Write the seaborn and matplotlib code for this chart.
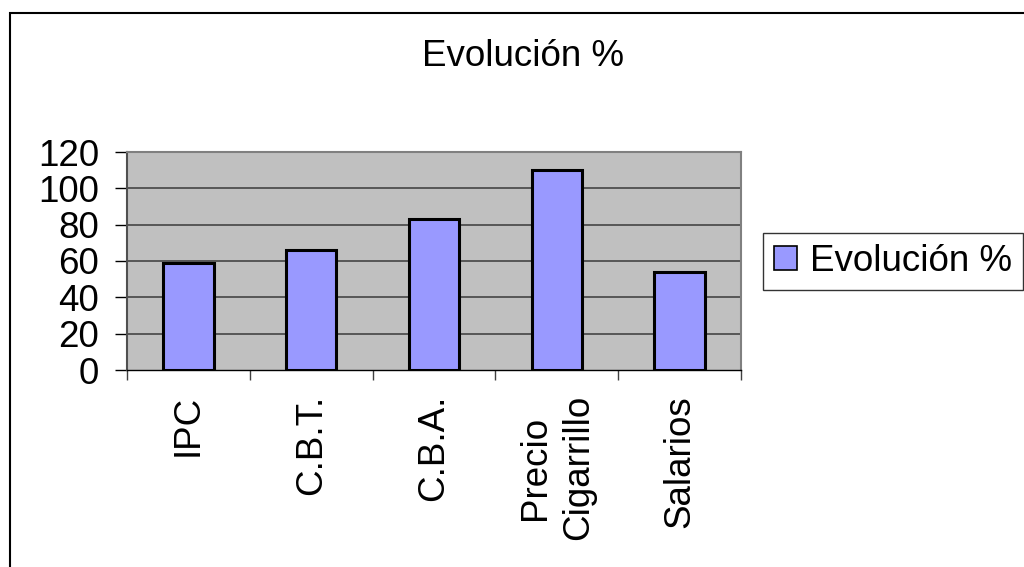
import matplotlib
matplotlib.use("Agg")
import matplotlib.pyplot as plt
import seaborn as sns
import pandas as pd
from matplotlib.patches import Rectangle, Patch

categories = ["IPC", "C.B.T.", "C.B.A.", "Precio\nCigarrillo", "Salarios"]
values = [59, 66, 83, 110, 54]
series_name = "Evolución %"
title = "Evolución %"
yticks = [0, 20, 40, 60, 80, 100, 120]

sns.set_theme(style="white")
plt.rcParams['font.family'] = ['Liberation Sans', 'DejaVu Sans']
plt.rcParams['text.color'] = 'black'
plt.rcParams['xtick.color'] = 'black'
plt.rcParams['ytick.color'] = 'black'

FS = 26.5

df = pd.DataFrame({"cat": categories, "val": values})

fig = plt.figure(figsize=(10.24, 5.67), dpi=100)
ax = fig.add_axes([127/1024, 1-370/567, (741-127)/1024, (370-152)/567])
ax.set_facecolor("#C0C0C0")

sns.barplot(data=df, x="cat", y="val", color="#9999FF", edgecolor="black",
            linewidth=2.2, width=0.41, saturation=1, ax=ax, zorder=3)

ax.set_ylim(0, 120)
ax.set_xlim(-0.5, len(categories) - 0.5)
ax.set_yticks(yticks)
ax.set_yticklabels([str(v) for v in yticks], fontsize=FS)
ax.grid(False)
for v in yticks[1:]:
    ax.axhline(v, color="#3a3a3a", lw=1.1, zorder=1)
ax.set_xlabel("")
ax.set_ylabel("")

ax.set_xticks(range(len(categories)))
ax.set_xticklabels(categories, rotation=90, fontsize=FS, va="top", ha="center", linespacing=1.3)
ax.tick_params(axis="x", which="major", length=0, pad=18, bottom=False)
ax.set_xticks([i - 0.5 for i in range(len(categories) + 1)], minor=True)
ax.tick_params(axis="x", which="minor", length=7.5, width=1, color="#404040",
               direction="out", bottom=True)
ax.tick_params(axis="y", length=9, width=1, color="black", direction="out", pad=11, left=True)

for side in ["left", "right", "top"]:
    ax.spines[side].set_color("#808080")
    ax.spines[side].set_linewidth(1.5)
    ax.spines[side].set_visible(True)
ax.spines["left"].set_color("#505050")
ax.spines["bottom"].set_color("black")
ax.spines["bottom"].set_linewidth(1)
ax.spines["bottom"].set_visible(True)

fig.text(523/1024, 1-57/567, title, fontsize=FS, ha="center", va="center")

fig.patches.append(Rectangle((10/1024, -0.05), 1.2, 1.05 - 13/567, transform=fig.transFigure,
                             fill=False, edgecolor="black", lw=1.5, zorder=0))

handle = Patch(facecolor="#9999FF", edgecolor="black", lw=1.2)
leg = fig.legend([handle], [series_name], loc="upper left",
                 bbox_to_anchor=(763/1024, 1-233/567), fontsize=FS,
                 frameon=True, fancybox=False, handlelength=0.62, handleheight=0.62,
                 handletextpad=0.35, borderpad=0.3, borderaxespad=0)
leg.get_frame().set_edgecolor("black")
leg.get_frame().set_linewidth(1)

fig.savefig("out.png", dpi=100, facecolor="white")
